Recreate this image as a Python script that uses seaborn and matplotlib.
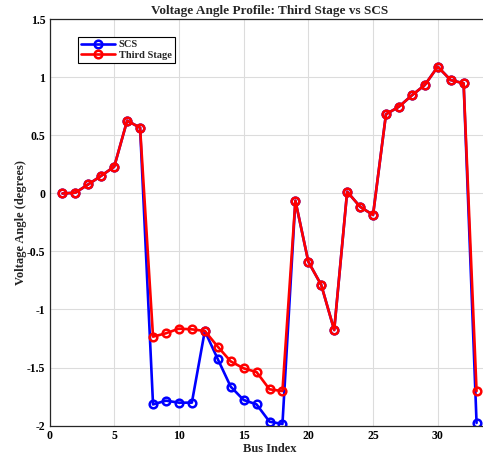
import numpy as np
import pandas as pd
import seaborn as sns
import matplotlib
matplotlib.use("Agg")
import matplotlib.pyplot as plt

bus = list(range(1, 34))
scs = [0.0, 0.007, 0.079, 0.153, 0.231, 0.628, 0.567,
       -1.818, -1.786, -1.803, -1.803, -1.185, -1.427, -1.665, -1.780, -1.818, -1.967, -1.987,
       -0.062, -0.588, -0.789, -1.177, 0.016, -0.114, -0.185,
       0.683, 0.748, 0.846, 0.935, 1.093, 0.978, 0.950, -1.978]
third = [0.0, 0.007, 0.079, 0.153, 0.231, 0.628, 0.567,
         -1.234, -1.205, -1.165, -1.171, -1.185, -1.320, -1.447, -1.507, -1.539, -1.688, -1.703,
         -0.062, -0.588, -0.789, -1.177, 0.016, -0.114, -0.185,
         0.683, 0.748, 0.846, 0.935, 1.093, 0.978, 0.950, -1.703]
xticks = [0, 5, 10, 15, 20, 25, 30]
yticks = [-2, -1.5, -1, -0.5, 0, 0.5, 1, 1.5]
ytick_labels = ["-2", "-1.5", "-1", "-0.5", "0", "0.5", "1", "1.5"]

sns.set_theme(style="white")
plt.rcParams['font.family'] = ['Liberation Serif', 'DejaVu Serif']
plt.rcParams['font.weight'] = 'bold'

df_scs = pd.DataFrame({"Bus": bus, "Angle": scs})
df_third = pd.DataFrame({"Bus": bus, "Angle": third})

fig = plt.figure(figsize=(4.83, 4.61), dpi=100)
ax = fig.add_axes([49.5 / 483, 35.5 / 461, 440 / 483, 406 / 461])

sns.lineplot(data=df_scs, x="Bus", y="Angle", ax=ax, color="#0000ff", lw=1.9,
             marker="o", ms=5.5, mfc="none", mec="#0000ff", mew=1.8, label="SCS")
sns.lineplot(data=df_third, x="Bus", y="Angle", ax=ax, color="#ff0000", lw=1.9,
             marker="o", ms=5.5, mfc="none", mec="#ff0000", mew=1.8, label="Third Stage")

ax.set_xlim(0, 34)
ax.set_ylim(-2, 1.5)
ax.set_xticks(xticks)
ax.set_yticks(yticks)
ax.set_yticklabels(ytick_labels)
ax.grid(True, color="#dcdcdc", lw=0.8)
ax.set_axisbelow(True)
for s in ax.spines.values():
    s.set_color("#262626")
    s.set_linewidth(0.9)
ax.tick_params(direction="in", length=3, width=0.8, colors="#262626",
               labelsize=8.5, labelcolor="black", pad=3)
for lab in ax.get_xticklabels() + ax.get_yticklabels():
    lab.set_fontweight("bold")

ax.set_xlabel("Bus Index", fontsize=9, fontweight="bold", labelpad=1)
ax.set_ylabel("Voltage Angle (degrees)", fontsize=9, fontweight="bold", labelpad=0)
ax.set_title("Voltage Angle Profile: Third Stage vs SCS", fontsize=9.5, fontweight="bold", pad=4)

leg = ax.legend(loc="upper left", bbox_to_anchor=(0.065, 0.957), borderaxespad=0,
                fancybox=False, framealpha=1, edgecolor="black",
                handlelength=3.2, handletextpad=0.4, borderpad=0.3, labelspacing=0.1,
                prop={"weight": "bold", "size": 7.5})
leg.get_frame().set_linewidth(0.8)

fig.savefig("out.png", dpi=100)
